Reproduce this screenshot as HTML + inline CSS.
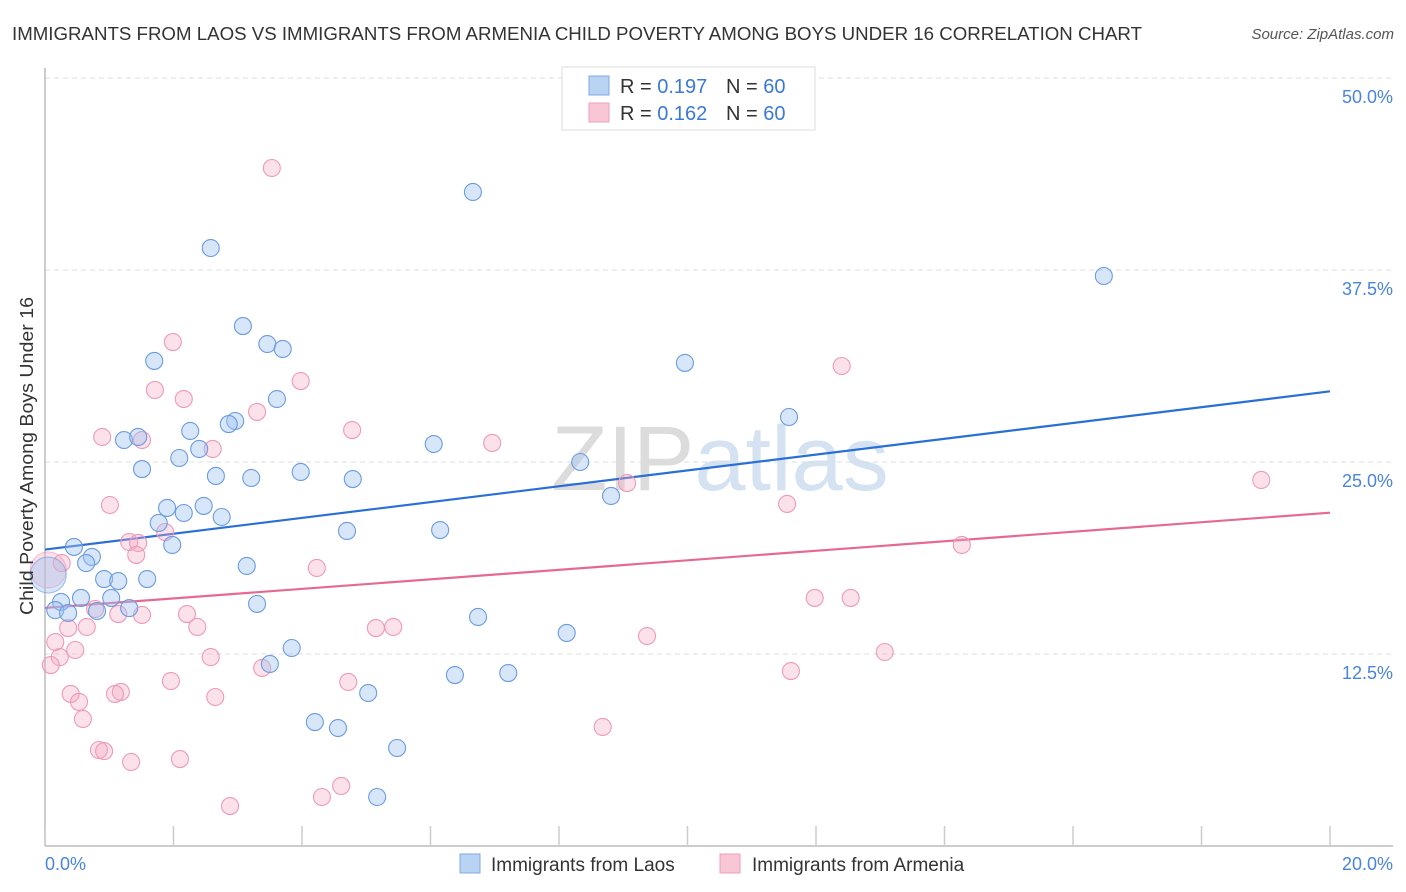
<!DOCTYPE html>
<html><head><meta charset="utf-8">
<style>
body{margin:0;background:#fff;font-family:"Liberation Sans",sans-serif;}
#wrap{position:relative;width:1406px;height:892px;overflow:hidden;}
svg text{font-family:"Liberation Sans",sans-serif;}
</style></head>
<body>
<div id="wrap">
<svg id="chart" width="1406" height="892">
<text x="12" y="40" font-size="18" fill="#333" textLength="1130" lengthAdjust="spacingAndGlyphs">IMMIGRANTS FROM LAOS VS IMMIGRANTS FROM ARMENIA CHILD POVERTY AMONG BOYS UNDER 16 CORRELATION CHART</text>
<text x="1394" y="39" font-size="15" fill="#555" font-style="italic" text-anchor="end">Source: ZipAtlas.com</text>
<text x="720" y="490" font-size="92" fill="#e4e4e4" text-anchor="middle" font-family="Liberation Serif"><tspan fill="#dcdcdc">ZIP</tspan><tspan fill="#d4e2f2" font-family="Liberation Sans">atlas</tspan></text>
<g id="grid"></g>
<g id="axes"></g>
<g id="lines"></g>
<g id="points"></g>
<text transform="translate(33,456) rotate(-90)" font-size="18" fill="#333" text-anchor="middle" textLength="318" lengthAdjust="spacingAndGlyphs">Child Poverty Among Boys Under 16</text>
<g>
<rect x="562" y="67" width="253" height="63" fill="#fff" stroke="#ddd"/>
<rect x="589" y="76" width="20" height="19" fill="#b9d3f3" stroke="#7fa9e0"/>
<rect x="589" y="103" width="20" height="19" fill="#f8c6d5" stroke="#eea0b8"/>
<text x="620" y="93" font-size="20" fill="#333">R = <tspan fill="#3b78d8">0.197</tspan></text>
<text x="726" y="93" font-size="20" fill="#333">N = <tspan fill="#3b78d8">60</tspan></text>
<text x="620" y="120" font-size="20" fill="#333">R = <tspan fill="#3b78d8">0.162</tspan></text>
<text x="726" y="120" font-size="20" fill="#333">N = <tspan fill="#3b78d8">60</tspan></text>
</g>
<g>
<rect x="460" y="854" width="20" height="19" fill="#b9d3f3" stroke="#7fa9e0"/>
<text x="491" y="871" font-size="19" fill="#333">Immigrants from Laos</text>
<rect x="720" y="854" width="20" height="19" fill="#f8c6d5" stroke="#eea0b8"/>
<text x="752" y="871" font-size="19" fill="#333">Immigrants from Armenia</text>
</g>
</svg>
</div>
<script>
const laosX=[6.66,2.58,16.48,3.08,3.46,3.70,1.70,9.96,3.61,11.58,2.96,2.86,2.26,1.23,1.45,6.05,2.40,2.09,8.33,1.51,3.98,2.66,3.21,4.79,8.81,2.47,1.90,2.16,2.75,1.77,4.70,6.15,1.98,0.45,0.73,0.64,3.14,0.92,1.14,1.59,0.05,0.56,1.03,0.25,0.16,0.36,0.81,1.31,3.30,6.74,8.12,3.84,3.50,6.38,7.21,5.03,4.20,4.56,5.48,5.17];
const laosY=[42.58,38.93,37.11,33.85,32.68,32.36,31.58,31.45,29.10,27.93,27.67,27.47,27.02,26.43,26.63,26.17,25.85,25.26,25.0,24.54,24.35,24.09,23.96,23.89,22.79,22.14,22.01,21.68,21.42,21.03,20.51,20.57,19.60,19.47,18.82,18.42,18.23,17.38,17.25,17.38,17.64,16.15,16.15,15.89,15.36,15.17,15.30,15.49,15.76,14.91,13.87,12.89,11.85,11.13,11.26,9.96,8.07,7.68,6.38,3.19];
const armX=[3.53,1.99,1.71,12.40,3.98,2.16,3.30,0.89,1.51,4.78,6.96,2.61,9.06,18.93,1.01,11.55,1.87,1.31,1.45,1.42,14.27,4.23,0.26,0.05,11.98,12.54,0.78,1.14,2.21,0.65,0.36,2.37,5.15,5.42,9.37,0.16,0.47,0.23,2.58,0.09,13.07,3.38,11.61,1.96,4.72,0.40,1.18,1.09,0.53,2.65,0.59,8.68,0.84,0.92,1.34,2.10,4.61,4.31,2.88,1.51];
const armY=[44.14,32.81,29.69,31.25,30.27,29.10,28.26,26.63,26.43,27.08,26.24,25.85,23.63,23.83,22.20,22.27,20.44,19.79,19.73,18.95,19.60,18.10,18.42,17.97,16.15,16.15,15.43,15.10,15.10,14.26,14.19,14.26,14.19,14.26,13.67,13.28,12.76,12.30,12.30,11.78,12.63,11.59,11.39,10.74,10.68,9.90,10.03,9.90,9.38,9.70,8.27,7.75,6.25,6.18,5.47,5.66,3.91,3.19,2.60,15.04];
const laosTrend=[19.3,29.6];
const armTrend=[15.5,21.7];
const yTicks=[12.5,25.0,37.5,50.0];
const yTickLabels=["12.5%","25.0%","37.5%","50.0%"];
const xTicks=[0,2,4,6,8,10,12,14,16,18,20];
const NS="http://www.w3.org/2000/svg";
const X0=45,X1=1330,Y0=846,Y1=78;
const sx=v=>X0+(v/20)*(X1-X0);
const sy=v=>Y0-(v/50)*(Y0-Y1);
function mk(tag,attrs,parent){const e=document.createElementNS(NS,tag);for(const k in attrs)e.setAttribute(k,attrs[k]);document.getElementById(parent).appendChild(e);return e;}
yTicks.forEach((t,i)=>{
 const g=mk('line',{x1:X0,x2:1393,y1:sy(t),y2:sy(t),stroke:'#ddd','stroke-dasharray':'5,4'},'grid');
 
 
 const l=mk('text',{x:1393,y:sy(t)+25,'font-size':18,fill:'#4a84dc','text-anchor':'end'},'axes');
 l.textContent=yTickLabels[i];
 
 
});
let a=mk('line',{x1:X0,x2:X0,y1:68,y2:Y0,stroke:'#bbb','stroke-width':1.5},'axes');


a=mk('line',{x1:X0,x2:1393,y1:Y0,y2:Y0,stroke:'#bbb','stroke-width':1.5},'axes');


xTicks.forEach(t=>{
 const k=mk('line',{x1:sx(t),x2:sx(t),y1:Y0-20,y2:Y0,stroke:'#ccc','stroke-width':1.5},'axes');
 
 
});
let xl=mk('text',{x:45,y:870,'font-size':18,fill:'#4a84dc'},'axes');xl.textContent='0.0%';


xl=mk('text',{x:1393,y:870,'font-size':18,fill:'#4a84dc','text-anchor':'end'},'axes');xl.textContent='20.0%';


function pts(xs,ys,fill,stroke,name){
 const minIdx=xs.indexOf(Math.min(...xs));
 xs.forEach((x,i)=>{
  const big=(i===minIdx);
  const c=mk('circle',{cx:sx(x),cy:sy(ys[i]),r:big?18:8.5,fill:fill,stroke:stroke,'stroke-width':1.1,'stroke-opacity':big?0.6:1},'points');
  
  
 });
}
pts(armX,armY,'rgba(244,170,195,0.35)','#ee9ab6','point-armenia');
pts(laosX,laosY,'rgba(160,196,240,0.42)','#6b9be0','point-laos');
let ln=mk('line',{x1:sx(0),y1:sy(laosTrend[0]),x2:sx(20),y2:sy(laosTrend[1]),stroke:'#2a6fd6','stroke-width':2.2},'lines');


ln=mk('line',{x1:sx(0),y1:sy(armTrend[0]),x2:sx(20),y2:sy(armTrend[1]),stroke:'#e46a93','stroke-width':2.2},'lines');


</script>
</body></html>
